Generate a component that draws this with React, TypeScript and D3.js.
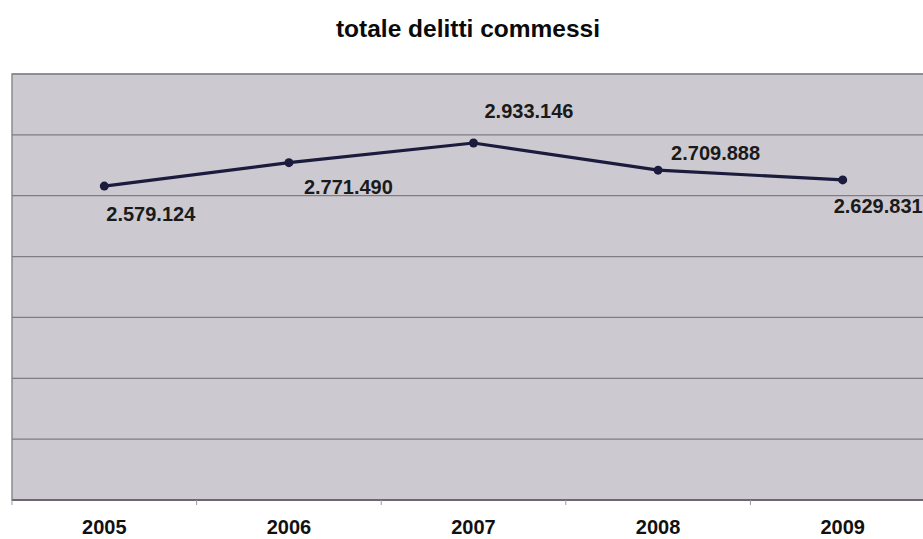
import React from "react";
import * as d3 from "d3";

const title = "totale delitti commessi";
const years = ["2005", "2006", "2007", "2008", "2009"];
const values = [2579124, 2771490, 2933146, 2709888, 2629831];
const yTicks = [0, 500000, 1000000, 1500000, 2000000, 2500000, 3000000, 3500000];
// label nudges (dx, dy to baseline) relative to each point
const labelOffsets: [number, number][] = [
  [2, 35],
  [15, 31],
  [11, -25],
  [13, -10],
  [-9, 33],
];

const W = 923;
const H = 539;
const plotLeft = 12;
const plotRight = 935;
const plotTop = 74;
const plotBottom = 500;

const fmt = (v: number) => d3.format(",")(v).replace(/,/g, ".");

export default function App() {
  const x = d3.scaleBand<string>().domain(years).range([plotLeft, plotRight]).padding(0);
  const y = d3.scaleLinear().domain([0, 3500000]).range([plotBottom, plotTop]);
  const cx = (d: string) => (x(d) as number) + x.bandwidth() / 2;
  const pts: [number, number][] = years.map((d, i) => [cx(d), y(values[i])]);
  const line = d3.line()(pts) as string;
  const font = "'Liberation Sans', Arial, Helvetica, sans-serif";

  return (
    <svg
      width={W}
      height={H}
      style={{ position: "absolute", left: 0, top: 0, background: "#fff" }}
      fontFamily={font}
    >
      <text x={468} y={37} textAnchor="middle" fontSize={24.5} fontWeight="bold" fill="#0a0a0a">
        {title}
      </text>
      <rect
        x={plotLeft}
        y={plotTop}
        width={plotRight - plotLeft}
        height={plotBottom - plotTop}
        fill="#cccad0"
        stroke="#8c8a90"
        strokeWidth={1.5}
      />
      {yTicks.slice(1).map((t) => (
        <line key={t} x1={plotLeft} x2={plotRight} y1={y(t)} y2={y(t)} stroke="#7f7d83" strokeWidth={1.2} />
      ))}
      <line x1={plotLeft} x2={plotRight} y1={plotBottom} y2={plotBottom} stroke="#6a686e" strokeWidth={2} />
      {years.map((d) => (
        <line
          key={"t" + d}
          x1={x(d) as number}
          x2={x(d) as number}
          y1={plotBottom}
          y2={plotBottom + 5}
          stroke="#9a989e"
          strokeWidth={1}
        />
      ))}
      {years.map((d) => (
        <text key={"l" + d} x={cx(d)} y={534} textAnchor="middle" fontSize={20} fontWeight="bold" fill="#111">
          {d}
        </text>
      ))}
      <path d={line} fill="none" stroke="#1b1b3d" strokeWidth={3.2} />
      {pts.map((p, i) => (
        <circle key={"c" + i} cx={p[0]} cy={p[1]} r={4.5} fill="#1b1b3d" />
      ))}
      {pts.map((p, i) => (
        <text
          key={"v" + i}
          x={p[0] + labelOffsets[i][0]}
          y={p[1] + labelOffsets[i][1]}
          fontSize={20}
          fontWeight="bold"
          fill="#1a1a1a"
        >
          {fmt(values[i])}
        </text>
      ))}
    </svg>
  );
}
